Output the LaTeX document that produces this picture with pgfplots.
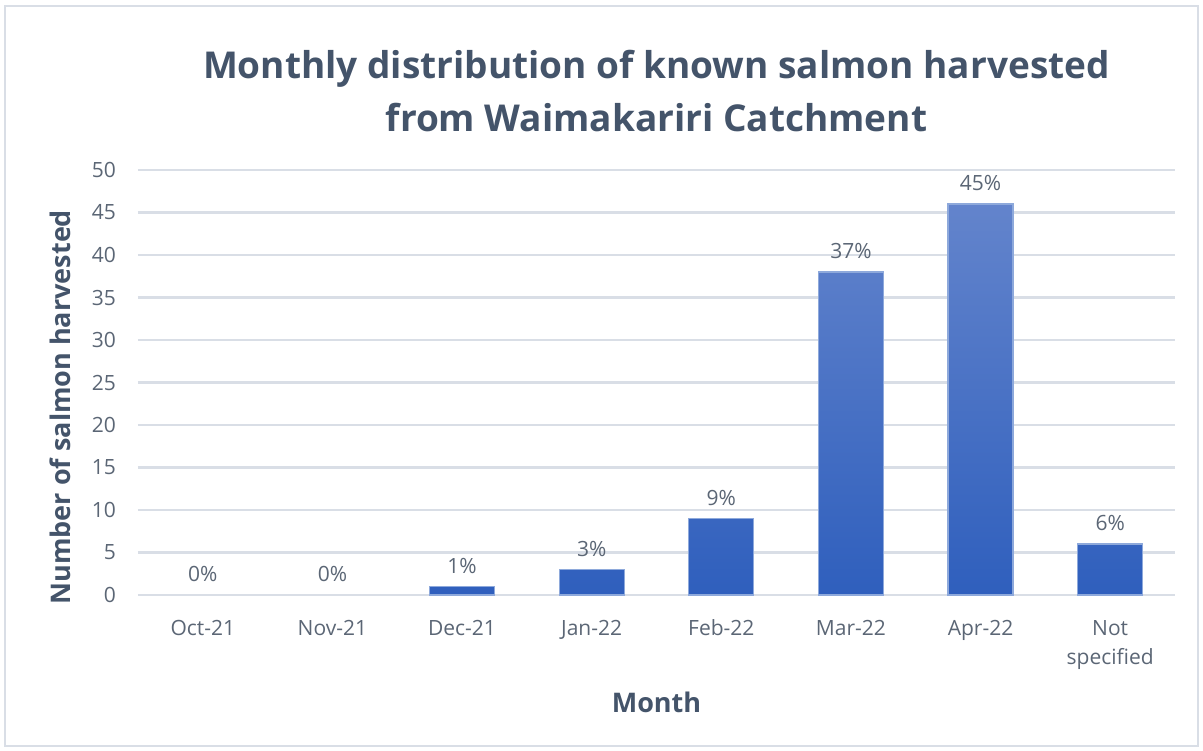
\documentclass[border=0pt]{standalone}
\usepackage{fontspec}
\setmainfont{Open Sans}
\usepackage{pgfplots}
\pgfplotsset{compat=1.18}
\definecolor{titlec}{HTML}{44546A}
\definecolor{tickc}{HTML}{5B6675}
\definecolor{gridc}{HTML}{D9DEE6}
\definecolor{bartop}{HTML}{6384CC}
\definecolor{barbot}{HTML}{2F5FBD}
\definecolor{baredge}{HTML}{8EA9DB}
\begin{document}
\begin{tikzpicture}
\path[use as bounding box] (-69bp,-78bp) rectangle (532.5bp,297.5bp);
\draw[gridc, line width=1.2bp] (-66.5bp,-75.5bp) rectangle (530bp,294.5bp);
\begin{axis}[
  at={(0,0)}, anchor=south west,
  scale only axis,
  width=518.5bp, height=212.5bp,
  xmin=-0.5, xmax=7.5,
  ymin=0, ymax=50,
  ytick={0,5,...,50},
  xtick={0,...,7},
  xticklabels={Oct-21,Nov-21,Dec-21,Jan-22,Feb-22,Mar-22,Apr-22,Not\\specified},
  xticklabel style={align=center, font=\fontsize{10.5bp}{14.5bp}\selectfont, text=tickc, yshift=-9bp},
  yticklabel style={font=\fontsize{10.5bp}{14bp}\selectfont, text=tickc, xshift=-7.5bp},
  /pgf/number format/assume math mode=true,
  axis line style={draw=none},
  major tick length=0pt,
  ymajorgrids, grid style={gridc, line width=1.2bp},
  ybar, bar width=32.5bp, bar shift=0pt,
  point meta=explicit symbolic,
  nodes near coords,
  nodes near coords style={font=\fontsize{10.5bp}{14bp}\selectfont, text=tickc, yshift=3bp},
  xlabel={Month},
  ylabel={Number of salmon harvested},
  xlabel style={font=\bfseries\fontsize{13.5bp}{16bp}\selectfont, text=titlec, yshift=-4.5bp},
  ylabel style={at={(axis description cs:-0.0745,0.442)}, anchor=center, rotate=0, font=\bfseries\fontsize{13.5bp}{16bp}\selectfont, text=titlec},
  title={Monthly distribution of known salmon harvested\\from Waimakariri Catchment},
  title style={align=center, font=\bfseries\fontsize{18.5bp}{26.5bp}\selectfont, text=titlec, yshift=9.5bp},
  clip=false,
]
\addplot[draw=none, fill=none] coordinates {
  (0,0) [0\%]
  (1,0) [0\%]
};
\addplot[draw=baredge, line width=0.6bp, top color=bartop, bottom color=barbot] coordinates {
  (2,1) [1\%]
  (3,3) [3\%]
  (4,9) [9\%]
  (5,38) [37\%]
  (6,46) [45\%]
  (7,6) [6\%]
};
\end{axis}
\end{tikzpicture}
\end{document}
